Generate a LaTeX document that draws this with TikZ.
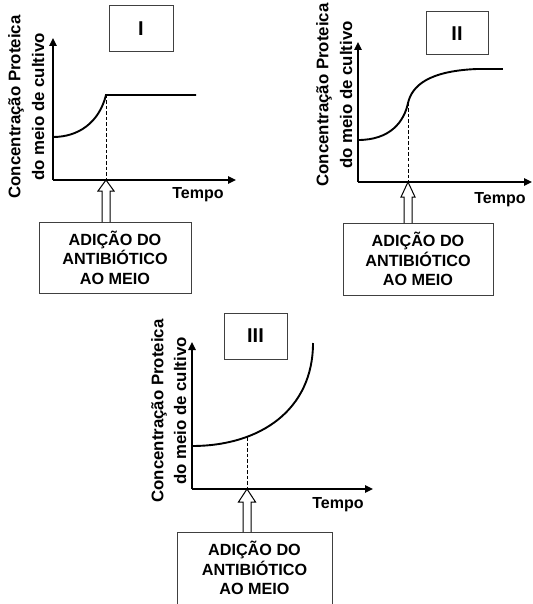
\documentclass[tikz,border=0pt]{standalone}
\usepackage{fontspec}
\setmainfont{Liberation Sans}
\usetikzlibrary{arrows.meta}
\begin{document}
\begin{tikzpicture}[x=1pt,y=-1pt,
  axis/.style={line width=1.5pt,-{Triangle[length=8pt,width=7.5pt]}},
  curve/.style={line width=1.9pt},
  guide/.style={line width=0.9pt,dash pattern=on 3.5pt off 2pt},
  hollow/.style={line width=1pt,draw=black},
  infobox/.style={draw=black!75,line width=1pt,align=center,inner sep=0pt,
    font=\fontsize{16.2}{19.5}\selectfont\bfseries},
  titlebox/.style={draw=black!75,line width=1pt,inner sep=0pt,
    font=\fontsize{20}{22}\selectfont\bfseries},
  ylab/.style={rotate=90,inner sep=0pt,font=\fontsize{16.8}{18}\selectfont\bfseries},
  tlab/.style={inner sep=0pt,font=\fontsize{16}{18}\selectfont\bfseries}]
\useasboundingbox (0,0) rectangle (532,604);
\fill[white] (0,0) rectangle (532,604);

% ---------- Panel I ----------
\node[titlebox,minimum width=64pt,minimum height=46pt] (t1) at (141,29) {I};
\coordinate (o1) at (53,180);
\coordinate (y1) at (53,38);
\coordinate (x1) at (236,180);
\draw[axis] (o1) -- (y1);
\draw[axis] (o1) -- (x1);
\coordinate (j1) at (106,95);
\coordinate (e1) at (196,95);
\draw[curve] (53,137) .. controls (78,137) and (99,123) .. (j1) -- (e1);
\coordinate (d1) at (106,180);
\draw[guide] (j1) -- (d1);
\node[ylab] (c1) at (16,107) {Concentração Proteica};
\node[ylab] (m1) at (38,107) {do meio de cultivo};
\node[tlab] (tp1) at (198,195) {Tempo};
\node[infobox,minimum width=152pt,minimum height=71pt] (b1) at (115,257.5)
  {ADIÇÃO DO\\ANTIBIÓTICO\\AO MEIO};
\draw[hollow] (102,222) -- (102,191) -- (98,191) -- (d1) -- (114,191) -- (110,191) -- (110,222);

% ---------- Panel II ----------
\node[titlebox,minimum width=62pt,minimum height=43pt] (t2) at (457,33.5) {II};
\coordinate (o2) at (358,182);
\coordinate (y2) at (358,42);
\coordinate (x2) at (532,182);
\draw[axis] (o2) -- (y2);
\draw[axis] (o2) -- (x2);
\coordinate (j2) at (408,103);
\coordinate (f2) at (477,69);
\coordinate (e2) at (503,69);
\draw[curve] (358,140) .. controls (390,140) and (404,122) .. (j2)
  .. controls (412,86) and (428,71) .. (f2);
\draw[line width=2.8pt] (f2) -- (e2);
\coordinate (d2) at (408,182);
\draw[guide] (j2) -- (d2);
\node[ylab] (c2) at (324,95) {Concentração Proteica};
\node[ylab] (m2) at (346,95) {do meio de cultivo};
\node[tlab] (tp2) at (500,200) {Tempo};
\node[infobox,minimum width=150pt,minimum height=72pt] (b2) at (418,259)
  {ADIÇÃO DO\\ANTIBIÓTICO\\AO MEIO};
\draw[hollow] (404,223) -- (404,197) -- (401,197) -- (d2) -- (415,197) -- (412,197) -- (412,223);

% ---------- Panel III ----------
\node[titlebox,minimum width=63pt,minimum height=46pt] (t3) at (255.5,336) {III};
\coordinate (o3) at (192,489);
\coordinate (y3) at (192,342);
\coordinate (x3) at (373,489);
\draw[axis] (o3) -- (y3);
\draw[axis] (o3) -- (x3);
\coordinate (j3) at (247,437);
\coordinate (e3) at (313,343);
\draw[curve] (192,446) .. controls (260,446) and (313,410) .. (e3);
\coordinate (d3) at (247,489);
\draw[guide] (j3) -- (d3);
\node[ylab] (c3) at (159,411) {Concentração Proteica};
\node[ylab] (m3) at (180,411) {do meio de cultivo};
\node[tlab] (tp3) at (338,505) {Tempo};
\node[inner sep=0pt,align=center,font=\fontsize{16.2}{19.5}\selectfont\bfseries] (b3) at (254.5,568)
  {ADIÇÃO DO\\ANTIBIÓTICO\\AO MEIO};
\draw[draw=black!75,line width=1pt] (177,605) -- (177,532) -- (332,532) -- (332,605);
\draw[hollow] (243,532) -- (243,502) -- (238.5,502) -- (d3) -- (255.5,502) -- (251,502) -- (251,532);
\end{tikzpicture}
\end{document}
